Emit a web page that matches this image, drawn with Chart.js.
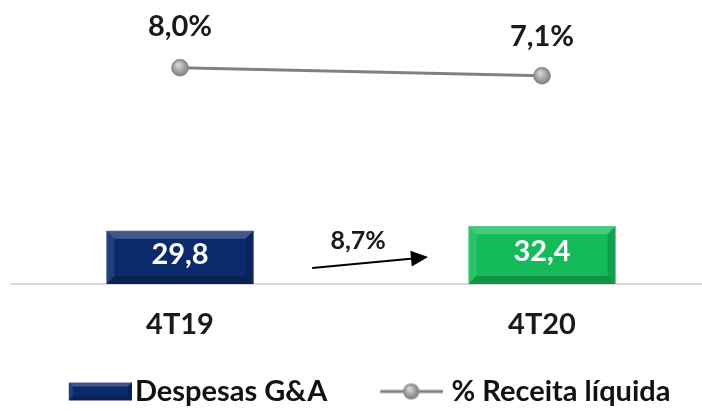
<!DOCTYPE html>
<html>
<head>
<meta charset="utf-8">
<script src="https://cdn.jsdelivr.net/npm/chart.js@4.4.1/dist/chart.umd.min.js"></script>
<style>
  html, body { margin: 0; padding: 0; background: #fff; }
  #wrap { width: 702px; height: 411px; }
</style>
</head>
<body>
<div id="wrap"><canvas id="grafico"></canvas></div>
<script>
// dados do gráfico
const categorias = ['4T19', '4T20'];
const despesas = [29.8, 32.4];          // Despesas G&A (R$ mi)
const receitaPct = [8.0, 7.1];          // % Receita líquida
const crescimento = 8.7;                // variação 4T20 x 4T19 (%)

const FONTE = 'Lato, "Open Sans", sans-serif';
const fmt = v => v.toLocaleString('pt-BR', { minimumFractionDigits: 1, maximumFractionDigits: 1 });

// cores das barras (uma por trimestre)
const corBarra = ['#0b2a6c', '#14bb58'];
const corBorda = ['#25447f', '#3acb72'];

// chanfro tipo Excel
function chanfro(g, l, t, r, bt, s) {
    g.fillStyle = 'rgba(255,255,255,0.22)';
    g.beginPath(); g.moveTo(l, t); g.lineTo(r, t); g.lineTo(r - s, t + s); g.lineTo(l + s, t + s); g.fill();
    g.fillStyle = 'rgba(255,255,255,0.10)';
    g.beginPath(); g.moveTo(l, t); g.lineTo(l + s, t + s); g.lineTo(l + s, bt - s); g.lineTo(l, bt); g.fill();
    g.fillStyle = 'rgba(0,0,0,0.14)';
    g.beginPath(); g.moveTo(r, t); g.lineTo(r, bt); g.lineTo(r - s, bt - s); g.lineTo(r - s, t + s); g.fill();
    g.fillStyle = 'rgba(0,0,0,0.22)';
    g.beginPath(); g.moveTo(l, bt); g.lineTo(r, bt); g.lineTo(r - s, bt - s); g.lineTo(l + s, bt - s); g.fill();
}

// ícones da legenda (desenhados à direita do canvas)
function iconeBarra() {
    const c = document.createElement('canvas');
    c.width = 122; c.height = 20;
    const g = c.getContext('2d');
    g.fillStyle = '#0b2a6c';
    g.fillRect(59, 1, 63, 18);
    chanfro(g, 59, 1, 122, 19, 4);
    return c;
}
function iconeLinha() {
    const c = document.createElement('canvas');
    c.width = 112; c.height = 20;
    const g = c.getContext('2d');
    g.strokeStyle = '#7f7f7f';
    g.lineWidth = 3;
    g.beginPath(); g.moveTo(49, 10); g.lineTo(112, 10); g.stroke();
    const gr = g.createRadialGradient(78, 7, 1, 80, 10, 8);
    gr.addColorStop(0, '#d4d4d4'); gr.addColorStop(1, '#7a7a7a');
    g.fillStyle = gr;
    g.beginPath(); g.arc(80, 10, 8, 0, Math.PI * 2); g.fill();
    return c;
}

// rótulos, chanfro das barras e seta de crescimento
const rotulos = {
    id: 'rotulos',
    afterDatasetsDraw(chart) {
        const ctx = chart.ctx;
        chart.getDatasetMeta(0).data.forEach((b, i) => {
            const p = b.getProps(['x', 'y', 'base', 'width'], true);
            const l = p.x - p.width / 2, r = p.x + p.width / 2;
            ctx.save();
            chanfro(ctx, l, p.y, r, p.base, 8);
            ctx.fillStyle = '#ffffff';
            ctx.font = 'bold 29px ' + FONTE;
            ctx.textAlign = 'center';
            ctx.textBaseline = 'middle';
            ctx.fillText(fmt(despesas[i]), p.x, (p.y + p.base) / 2 - 3);
            ctx.restore();
        });

        chart.getDatasetMeta(1).data.forEach((pt, i) => {
            ctx.save();
            ctx.fillStyle = '#1a1a1a';
            ctx.font = 'bold 29px ' + FONTE;
            ctx.textAlign = 'center';
            ctx.textBaseline = 'middle';
            ctx.fillText(fmt(receitaPct[i]) + '%', pt.x, pt.y - 41 + i * 2);
            ctx.restore();
        });

        // seta entre as barras
        const xs = chart.scales.x, ys = chart.scales.y;
        const x0 = xs.getPixelForValue(0.365), y0 = ys.getPixelForValue(9.0);
        const x1 = xs.getPixelForValue(0.685), y1 = ys.getPixelForValue(15.1);
        const ang = Math.atan2(y1 - y0, x1 - x0);
        ctx.save();
        ctx.strokeStyle = '#000'; ctx.fillStyle = '#000'; ctx.lineWidth = 2;
        ctx.beginPath(); ctx.moveTo(x0, y0); ctx.lineTo(x1 - 12 * Math.cos(ang), y1 - 12 * Math.sin(ang)); ctx.stroke();
        ctx.beginPath();
        ctx.moveTo(x1, y1);
        ctx.lineTo(x1 - 17 * Math.cos(ang) + 8 * Math.sin(ang), y1 - 17 * Math.sin(ang) - 8 * Math.cos(ang));
        ctx.lineTo(x1 - 17 * Math.cos(ang) - 8 * Math.sin(ang), y1 - 17 * Math.sin(ang) + 8 * Math.cos(ang));
        ctx.closePath(); ctx.fill();
        ctx.font = 'bold 25px ' + FONTE;
        ctx.textAlign = 'center'; ctx.textBaseline = 'middle';
        ctx.fillStyle = '#1a1a1a';
        ctx.fillText(fmt(crescimento) + '%', xs.getPixelForValue(0.492), ys.getPixelForValue(24.1));
        ctx.restore();
    }
};

// bolinha com brilho, posicionada pelas escalas
function corPonto(c) {
    const ch = c.chart;
    if (!ch.chartArea || c.parsed === undefined) return '#8c8c8c';
    const x = ch.scales.x.getPixelForValue(c.parsed.x);
    const y = ch.scales.y1.getPixelForValue(c.parsed.y);
    const gr = ch.ctx.createRadialGradient(x - 2, y - 3, 1, x, y, 9);
    gr.addColorStop(0, '#d6d6d6');
    gr.addColorStop(1, '#7a7a7a');
    return gr;
}

const ctx = document.getElementById('grafico').getContext('2d');
const grafico = new Chart(ctx, {
    type: 'bar',
    data: {
        datasets: [{
            type: 'bar',
            label: 'Despesas G&A',
            data: despesas.map((v, i) => ({ x: i, y: v })),
            backgroundColor: corBarra,
            borderColor: corBorda,
            borderWidth: 1,
            barThickness: 147,
            yAxisID: 'y',
            order: 2
        }, {
            type: 'line',
            label: '% Receita líquida',
            data: receitaPct.map((v, i) => ({ x: i, y: v })),
            borderColor: '#808080',
            borderWidth: 3,
            pointRadius: 8.5,
            pointBackgroundColor: corPonto,
            pointBorderColor: '#7a7a7a',
            pointBorderWidth: 0.5,
            yAxisID: 'y1',
            order: 1
        }]
    },
    options: {
        responsive: true,
        maintainAspectRatio: false,
        animation: false,
        layout: { autoPadding: false, padding: { left: 11, right: 0, top: 0, bottom: -5 } },
        plugins: {
            tooltip: { enabled: false },
            legend: {
                position: 'bottom',
                align: 'start',
                labels: {
                    usePointStyle: true,
                    pointStyleWidth: 99.5,
                    padding: 10,
                    color: '#111',
                    font: { family: FONTE, size: 29, weight: 'bold' },
                    generateLabels: () => [
                        { text: 'Despesas G&A', pointStyle: iconeBarra(), fontColor: '#111', datasetIndex: 0 },
                        { text: '% Receita líquida', pointStyle: iconeLinha(), fontColor: '#111', datasetIndex: 1 }
                    ]
                }
            }
        },
        scales: {
            x: {
                type: 'linear',
                offset: false,
                min: -0.4669,
                max: 1.442,
                grid: { display: false, offset: false },
                border: { display: true, color: '#d9d9d9', width: 2 },
                afterBuildTicks: axis => { axis.ticks = categorias.map((c, i) => ({ value: i })); },
                afterFit: axis => { axis.height = 83; },
                ticks: {
                    autoSkip: false,
                    maxRotation: 0,
                    padding: 15,
                    color: '#1a1a1a',
                    font: { family: FONTE, size: 29, weight: 'bold' },
                    callback: v => categorias[v]
                }
            },
            y: { display: false, min: 0, max: 159 },
            y1: { display: false, min: -16.3, max: 15.6 }
        }
    },
    plugins: [rotulos]
});
</script>
</body>
</html>
